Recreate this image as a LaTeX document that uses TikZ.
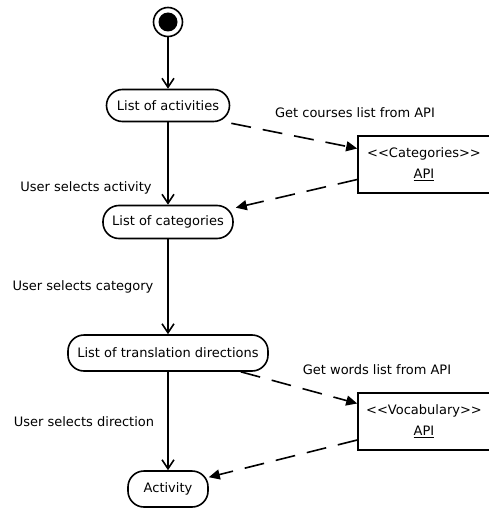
\documentclass[tikz,border=0pt]{standalone}
\usepackage{fontspec}
\setmainfont{DejaVu Sans}
\usetikzlibrary{arrows.meta}
\begin{document}
\begin{tikzpicture}[x=1pt,y=-1pt,
  every node/.style={font=\fontsize{13}{15}\selectfont},
  state/.style={draw,line width=1.6pt,rectangle,rounded corners=16pt,minimum height=#1,inner sep=0pt},
  state/.default=32pt,
  api/.style={draw,line width=1.6pt,rectangle,minimum width=132pt,minimum height=57pt,align=center,inner sep=0pt},
  flow/.style={line width=1.6pt,-{Straight Barb[length=9pt,width=12pt,line width=1.6pt]}},
  call/.style={line width=1.6pt,dash pattern=on 20pt off 12pt,-{Triangle[length=11pt,width=10pt]}},
  lbl/.style={inner sep=0pt}]
\useasboundingbox (0,0) rectangle (489,508);
% start
\node[circle,draw,line width=1.6pt,minimum size=29pt,inner sep=0pt] (start) at (168,22) {};
\fill (start.center) circle (9.5pt);
% states
\node[state,minimum width=123pt] (act) at (168,105.5) {List of activities};
\node[state=33pt,minimum width=130pt] (cat) at (168,222) {List of categories};
\node[state=36pt,minimum width=200pt] (trans) at (168,353) {List of translation directions};
\node[state=36pt,minimum width=80pt] (actv) at (168,489) {Activity};
% API boxes
\node[api] (catapi) at (424,164.5) {{<}{<}Categories{>}{>}\\[6pt]\underline{API}};
\node[api] (vocapi) at (424,421.5) {{<}{<}Vocabulary{>}{>}\\[6pt]\underline{API}};
% flows
\draw[flow] (start) -- (act);
\draw[flow] (act) -- (cat);
\draw[flow] (cat) -- (trans);
\draw[flow] (trans) -- (actv);
% calls
\draw[call] ([xshift=1pt,yshift=-1pt]act.south east) -- ([yshift=16pt]catapi.west);
\draw[call] ([yshift=-15pt]catapi.west) -- ([xshift=2pt,yshift=-3pt]cat.north east);
\draw[call] ([xshift=-28pt]trans.south east) -- ([yshift=18pt]vocapi.west);
\draw[call] ([yshift=-18.5pt]vocapi.west) -- ([yshift=-7pt]actv.north east);
% labels
\node[lbl] (l1) at (355,113) {Get courses list from API};
\node[lbl] (l2) at (86,188) {User selects activity};
\node[lbl] (l3) at (83,287) {User selects category};
\node[lbl] (l4) at (377,370) {Get words list from API};
\node[lbl] (l5) at (84,422) {User selects direction};
\end{tikzpicture}
\end{document}
